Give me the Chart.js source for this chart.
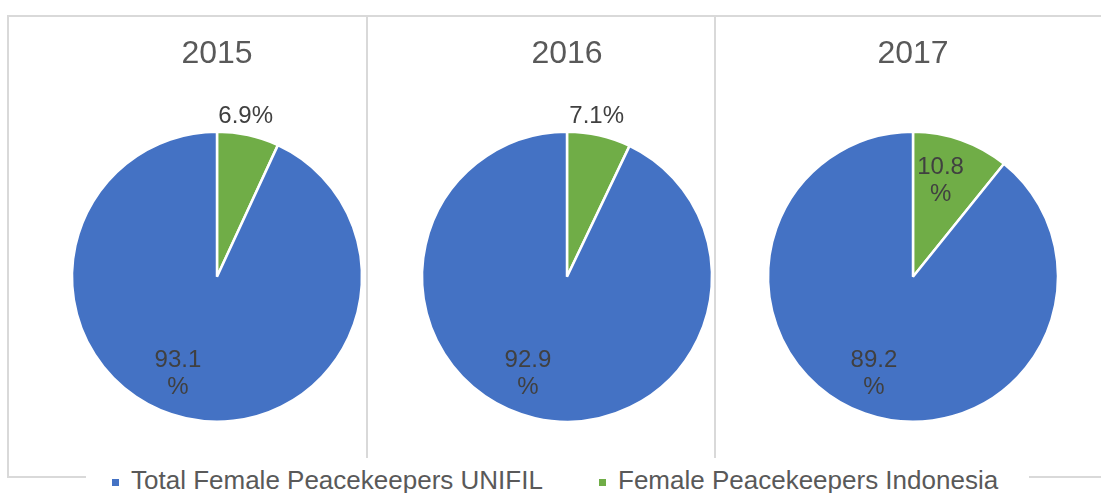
<!DOCTYPE html>
<html>
<head>
<meta charset="utf-8">
<script src="https://cdn.jsdelivr.net/npm/chart.js@4"></script>
<style>
  body { margin: 0; background: #fff; font-family: 'Liberation Sans', Arial, sans-serif; }
  #stage { position: relative; width: 1101px; height: 493px; overflow: hidden; }
  .frame { position: absolute; background: #d9d9d9; }
  .pieBox { position: absolute; top: 16px; width: 346px; height: 442px; }
  .legendItem { position: absolute; top: 465px; height: 30px; display: flex; align-items: center;
                font-size: 26px; color: #595959; white-space: nowrap; }
  .legendItem i { display: inline-block; width: 7px; height: 7px; margin-right: 12px; margin-top: 4px; }
  #legend { position: absolute; left: 86px; top: 466px; width: 943px; height: 30px; background: #fff; }
</style>
</head>
<body>
<div id="stage">
  <div class="frame" style="left:7px; top:15px; width:1094px; height:2px;"></div>
  <div class="frame" style="left:7px; top:15px; width:2px; height:463px;"></div>
  <div class="frame" style="left:7px; top:476px; width:1094px; height:2px;"></div>
  <div class="frame" style="left:366px; top:15px; width:2px; height:443px;"></div>
  <div class="frame" style="left:714px; top:15px; width:2px; height:443px;"></div>
  <div id="legend"></div>
</div>
<script>
// chart data
const years = ['2015', '2016', '2017'];
const legendLabels = ['Total Female Peacekeepers UNIFIL', 'Female Peacekeepers Indonesia'];
const unifilShare = [93.1, 92.9, 89.2];
const indonesiaShare = [6.9, 7.1, 10.8];

const BLUE = '#4472C4';
const GREEN = '#70AD47';
const pieCenters = [217, 567, 913];
const stage = document.getElementById('stage');

// legend (html, sits on top of the bottom frame line)
const legendLeft = [112, 599];
const legendColors = [BLUE, GREEN];
legendLabels.forEach((txt, i) => {
    const item = document.createElement('div');
    item.className = 'legendItem';
    item.style.left = legendLeft[i] + 'px';
    item.innerHTML = '<i style="background:' + legendColors[i] + '"></i><span></span>';
    item.querySelector('span').textContent = txt;
    stage.appendChild(item);
});

// Excel-ish "best fit" labels
const pieLabels = {
    id: 'pieLabels',
    afterDatasetsDraw(chart) {
        const ctx = chart.ctx;
        const arcs = chart.getDatasetMeta(0).data;
        const values = chart.data.datasets[0].data;
        ctx.save();
        ctx.fillStyle = '#404040';
        ctx.font = '24px "Liberation Sans", Arial, sans-serif';
        ctx.textAlign = 'center';
        ctx.textBaseline = 'middle';
        arcs.forEach((arc, i) => {
            const v = values[i];
            const R = arc.outerRadius;
            let ang, dist, lines;
            if (v > 50) {
                // big slice: label sits lower-left inside
                ang = (202 - 90) * Math.PI / 180;
                dist = R * 0.72;
                lines = [v.toFixed(1), '%'];
            } else if (v < 10) {
                ang = (arc.startAngle + arc.endAngle) / 2 - 0.04;
                dist = R + 18;
                lines = [v.toFixed(1) + '%'];
            } else {
                ang = (arc.startAngle + arc.endAngle) / 2 - 0.06;
                dist = R * 0.69;
                lines = [v.toFixed(1), '%'];
            }
            const x = arc.x + Math.cos(ang) * dist;
            const y = arc.y + Math.sin(ang) * dist;
            const lh = 27;
            lines.forEach((t, k) => {
                ctx.fillText(t, x, y + (k - (lines.length - 1) / 2) * lh);
            });
        });
        ctx.restore();
    }
};

years.forEach((year, i) => {
    const box = document.createElement('div');
    box.className = 'pieBox';
    box.style.left = (pieCenters[i] - 173) + 'px';
    const canvas = document.createElement('canvas');
    box.appendChild(canvas);
    stage.insertBefore(box, document.getElementById('legend'));

    new Chart(canvas, {
        type: 'pie',
        data: {
            labels: [legendLabels[1], legendLabels[0]],
            datasets: [{
                data: [indonesiaShare[i], unifilShare[i]],
                backgroundColor: [GREEN, BLUE],
                borderColor: '#ffffff',
                borderWidth: 2.5,
                radius: 145
            }]
        },
        options: {
            responsive: true,
            maintainAspectRatio: false,
            animation: false,
            layout: { padding: { top: 0, bottom: 8, left: 0, right: 0 } },
            plugins: {
                legend: { display: false },
                tooltip: { enabled: false },
                title: {
                    display: true,
                    text: year,
                    color: '#595959',
                    font: { size: 32, weight: 'normal', family: '"Liberation Sans", Arial, sans-serif' },
                    padding: { top: 19, bottom: 30 }
                }
            }
        },
        plugins: [pieLabels]
    });
});
</script>
</body>
</html>
